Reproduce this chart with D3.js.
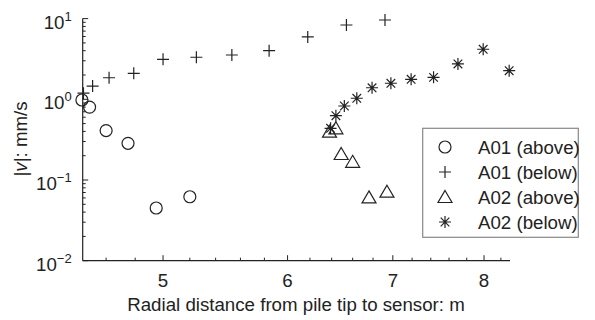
<!DOCTYPE html>
<html>
<head>
<meta charset="utf-8">
<script src="https://cdn.jsdelivr.net/npm/d3@7"></script>
<style>
  html, body { margin: 0; padding: 0; background: #fff; }
  svg { display: block; }
  text { font-family: "Liberation Sans", Arial, Helvetica, sans-serif; fill: #222; }
</style>
</head>
<body>
<svg id="chart" width="595" height="320"></svg>
<script>
// Radial distance (m) and particle velocity magnitude (mm/s) per sensor group
const a01AboveX = [4.44, 4.49, 4.60, 4.75, 4.95, 5.20];
const a01AboveV = [0.98, 0.80, 0.41, 0.285, 0.045, 0.062];

const a01BelowX = [4.45, 4.51, 4.62, 4.79, 5.00, 5.25, 5.53, 5.84, 6.18, 6.54, 6.92];
const a01BelowV = [1.19, 1.46, 1.85, 2.10, 3.13, 3.32, 3.54, 4.00, 5.92, 8.33, 9.61];

const a02AboveX = [6.38, 6.44, 6.49, 6.60, 6.76, 6.94];
const a02AboveV = [0.397, 0.437, 0.210, 0.168, 0.061, 0.0716];

const a02BelowX = [6.39, 6.44, 6.52, 6.64, 6.79, 6.98, 7.19, 7.43, 7.70, 7.99, 8.30];
const a02BelowV = [0.437, 0.626, 0.826, 1.03, 1.39, 1.58, 1.77, 1.87, 2.74, 4.17, 2.26];

const xTicks = [5, 6, 7, 8];
const yTickExps = [1, 0, -1, -2];
const seriesNames = ["A01 (above)", "A01 (below)", "A02 (above)", "A02 (below)"];

const svg = d3.select("#chart");
const ink = "#222";

const x = d3.scaleLog().domain([4.445, 8.31]).range([82.7, 510]);
const y = d3.scaleLog().domain([0.01, 10]).range([260.7, 18.6]);

// Axes: left and bottom lines only, ticks pointing into the plot
const xMinor = d3.range(46, 84, 2).map(d => d / 10).filter(d => !xTicks.includes(d));
const gx = svg.append("g").attr("transform", `translate(0,${y.range()[0]})`);
gx.append("line").attr("x1", x.range()[0]).attr("x2", x.range()[1])
  .attr("stroke", ink).attr("stroke-width", 1.2);
gx.selectAll("line.minor").data(xMinor).join("line").attr("class", "minor")
  .attr("x1", d => x(d)).attr("x2", d => x(d)).attr("y1", 0).attr("y2", -3)
  .attr("stroke", ink).attr("stroke-width", 1);
gx.selectAll("line.major").data(xTicks).join("line").attr("class", "major")
  .attr("x1", d => x(d)).attr("x2", d => x(d)).attr("y1", 0).attr("y2", -5.5)
  .attr("stroke", ink).attr("stroke-width", 1);
gx.selectAll("text").data(xTicks).join("text")
  .attr("x", d => x(d)).attr("y", 26).attr("text-anchor", "middle")
  .attr("font-size", 18.7).text(d => d);

const yMinor = [];
[0.01, 0.1, 1].forEach(b => { for (let k = 2; k <= 9; k++) yMinor.push(b * k); });
const gy = svg.append("g").attr("transform", `translate(${x.range()[0]},0)`);
gy.append("line").attr("y1", y.range()[0]).attr("y2", y.range()[1])
  .attr("stroke", ink).attr("stroke-width", 1.2);
gy.selectAll("line.minor").data(yMinor).join("line").attr("class", "minor")
  .attr("y1", d => y(d)).attr("y2", d => y(d)).attr("x1", 0).attr("x2", 3)
  .attr("stroke", ink).attr("stroke-width", 1);
gy.selectAll("line.major").data(yTickExps).join("line").attr("class", "major")
  .attr("y1", d => y(Math.pow(10, d))).attr("y2", d => y(Math.pow(10, d)))
  .attr("x1", 0).attr("x2", 5.5).attr("stroke", ink).attr("stroke-width", 1);
const yl = gy.selectAll("text").data(yTickExps).join("text")
  .attr("x", -11).attr("y", d => y(Math.pow(10, d)) + 10)
  .attr("text-anchor", "end").attr("font-size", 18.7);
yl.append("tspan").text("10");
yl.append("tspan").attr("font-size", 13).attr("dy", -8)
  .text(d => d < 0 ? "\u2212" + (-d) : String(d));

// Axis titles
svg.append("text").attr("x", 296).attr("y", 311).attr("text-anchor", "middle")
  .attr("font-size", 18.7).text("Radial distance from pile tip to sensor: m");
const ylab = svg.append("text")
  .attr("transform", "translate(27,139) rotate(-90)")
  .attr("text-anchor", "middle").attr("font-size", 18.7);
ylab.append("tspan").text("|");
ylab.append("tspan").attr("font-style", "italic").text("v");
ylab.append("tspan").text("|: mm/s");

// Marker shapes
const markers = {
  circle: g => g.append("circle").attr("r", 6),
  plus: g => g.append("path").attr("d", "M-6,0H6M0,-6V6"),
  triangle: g => g.append("path").attr("d", "M0,-6.5L7,5.5L-7,5.5Z"),
  star: g => g.append("path").attr("d",
    "M-6,0H6M0,-6V6M-4.3,-4.3L4.3,4.3M-4.3,4.3L4.3,-4.3")
};

const series = [
  { xs: a01AboveX, vs: a01AboveV, shape: "circle" },
  { xs: a01BelowX, vs: a01BelowV, shape: "plus" },
  { xs: a02AboveX, vs: a02AboveV, shape: "triangle" },
  { xs: a02BelowX, vs: a02BelowV, shape: "star" }
];

series.forEach(s => {
  const pts = s.xs.map((d, i) => [d, s.vs[i]]);
  svg.append("g").selectAll("g").data(pts).join("g")
    .attr("transform", d => `translate(${x(d[0])},${y(d[1])})`)
    .each(function () {
      markers[s.shape](d3.select(this))
        .attr("fill", "none").attr("stroke", ink).attr("stroke-width", 1.2);
    });
});

// Legend
const lg = svg.append("g");
lg.append("rect").attr("x", 422.7).attr("y", 128.3).attr("width", 155.6).attr("height", 109)
  .attr("fill", "#fff").attr("stroke", "#888").attr("stroke-width", 1.2);
series.forEach((s, i) => {
  const row = lg.append("g").attr("transform", `translate(0,${147 + i * 25})`);
  markers[s.shape](row.append("g").attr("transform", "translate(445,0)"))
    .attr("fill", "none").attr("stroke", ink).attr("stroke-width", 1.2);
  row.append("text").attr("x", 478).attr("y", 6.5).attr("font-size", 18.7).text(seriesNames[i]);
});
</script>
</body>
</html>
